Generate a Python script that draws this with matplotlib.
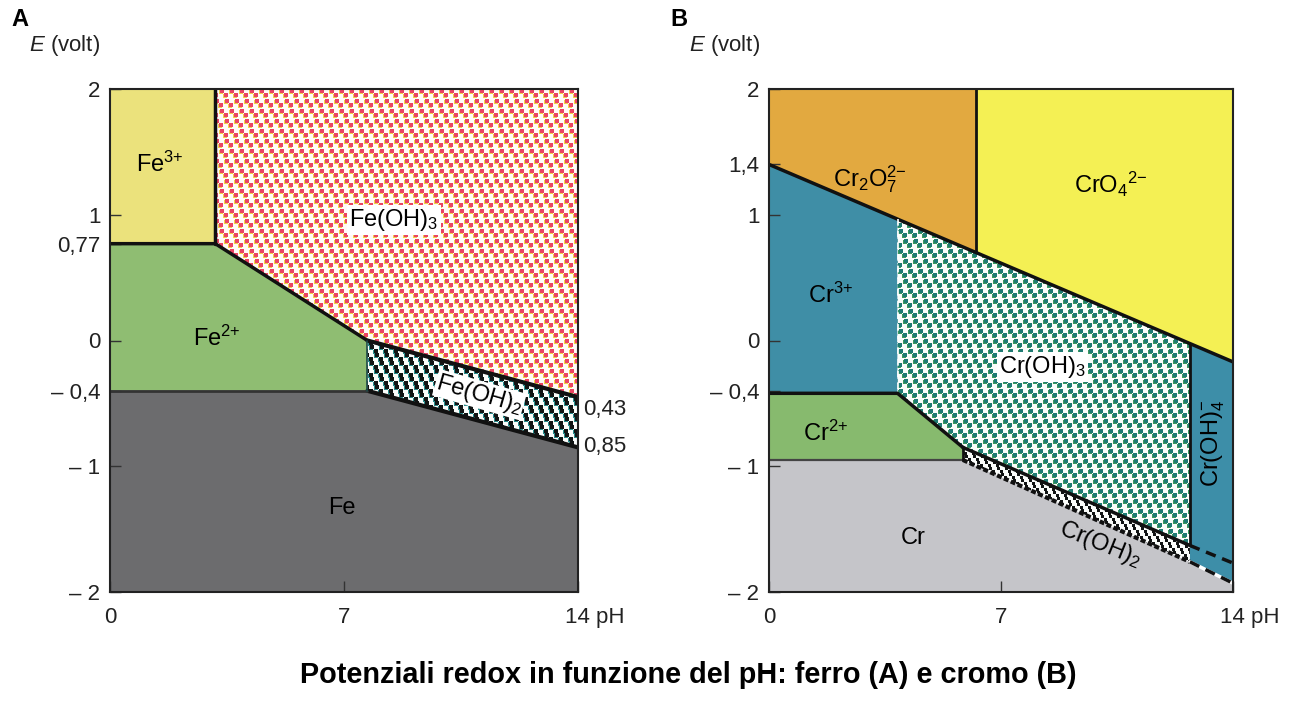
import numpy as np
import matplotlib
matplotlib.use('Agg')
import matplotlib.pyplot as plt
from matplotlib.patches import Polygon
from matplotlib.colors import to_rgb
import matplotlib.transforms as mtrans

plt.rcParams['font.family'] = ['Liberation Sans', 'DejaVu Sans']
plt.rcParams['mathtext.fontset'] = 'custom'
plt.rcParams['mathtext.rm'] = 'Liberation Sans'
plt.rcParams['mathtext.it'] = 'Liberation Sans:italic'
plt.rcParams['mathtext.bf'] = 'Liberation Sans:bold'
plt.rcParams['mathtext.default'] = 'regular'

# ---------------- data ----------------
ph_ticks = [0, 7, 14]
ph_ticklabels = ['0', '7', '14 pH']

fe_E_ticks = [2, 1, 0.77, 0, -0.4, -1, -2]
fe_E_ticklabels = ['2', '1', '0,77', '0', '\u2013 0,4', '\u2013 1', '\u2013 2']
cr_E_ticks = [2, 1.4, 1, 0, -0.4, -1, -2]
cr_E_ticklabels = ['2', '1,4', '1', '0', '\u2013 0,4', '\u2013 1', '\u2013 2']

# Iron (A): region polygons (pH, E)
fe3_pH = [0, 3.15, 3.15, 0]
fe3_E = [2, 2, 0.77, 0.77]
fe2_pH = [0, 3.15, 7.7, 7.7, 0]
fe2_E = [0.77, 0.77, 0.0, -0.40, -0.40]
feoh3_pH = [3.15, 14, 14, 7.7, 3.15]
feoh3_E = [2, 2, -0.45, 0.0, 0.77]
feoh2_pH = [7.7, 14, 14, 7.7]
feoh2_E = [0.0, -0.45, -0.85, -0.40]
fe_pH = [0, 7.7, 14, 14, 0]
fe_E = [-0.40, -0.40, -0.85, -2, -2]

# Chromium (B): region polygons (pH, E)
cr2o7_pH = [0, 6.26, 6.26, 0]
cr2o7_E = [2, 2, 0.70, 1.40]
cro4_pH = [6.26, 14, 14, 6.26]
cro4_E = [2, 2, -0.17, 0.70]
cr3_pH = [0, 3.88, 3.88, 0]
cr3_E = [1.40, 0.965, -0.42, -0.42]
cr2_pH = [0, 3.88, 5.85, 5.85, 0]
cr2_E = [-0.42, -0.42, -0.85, -0.95, -0.95]
croh3_pH = [3.88, 12.7, 12.7, 5.85, 3.88]
croh3_E = [0.965, -0.025, -1.63, -0.85, -0.42]
croh2_pH = [5.85, 12.7, 12.7, 5.85]
croh2_E = [-0.85, -1.63, -1.76, -0.95]
croh4_pH = [12.7, 14, 14, 12.7]
croh4_E = [-0.025, -0.17, -1.93, -1.76]
cr_pH = [0, 5.85, 12.7, 14, 14, 0]
cr_E = [-0.95, -0.95, -1.76, -1.93, -2, -2]
# dashed continuation lines (pH, E)
cr_dash_up_pH = [12.7, 14]
cr_dash_up_E = [-1.63, -1.77]
cr_dash_lo_pH = [12.7, 14]
cr_dash_lo_E = [-1.76, -1.93]

W, H = 1315, 708
fig = plt.figure(figsize=(W / 100, H / 100), dpi=100)
fig.patch.set_facecolor('white')


def px_ax(l, r, t, b):
    return [l / W, (H - b) / H, (r - l) / W, (b - t) / H]


axA = fig.add_axes(px_ax(110, 578, 89, 592))
axB = fig.add_axes(px_ax(769, 1233, 89, 592))


def square_mask(xx, yy, cw, ch, shift, sq, offsets):
    j = yy // ch
    u = (xx - shift * j) % cw
    v = yy % ch
    m = np.zeros(xx.shape, dtype=bool)
    for ox, oy in offsets:
        m |= (((u - ox) % cw) < sq) & (((v - oy) % ch) < sq)
    return m


def texture(h, w, bg, col, shadow=None, cw=10, ch=10, shift=5, sq=4,
            offsets=((0, 0), (4, 4))):
    yy, xx = np.mgrid[0:h, 0:w]
    img = np.ones((h, w, 3)) * np.array(to_rgb(bg))
    if shadow is not None:
        m2 = square_mask(xx + 1, yy - 1, cw, ch, shift, sq, offsets)
        img[m2] = to_rgb(shadow)
    m = square_mask(xx, yy, cw, ch, shift, sq, offsets)
    img[m] = to_rgb(col)
    return img


def pattern(ax, xs, ys, bg, col, shadow=None, **kw):
    bb = ax.get_window_extent()
    w, h = int(round(bb.width)), int(round(bb.height))
    img = texture(h, w, bg, col, shadow, **kw)
    im = ax.imshow(img, extent=(0, 14, -2, 2), origin='upper',
                   interpolation='nearest', aspect='auto', zorder=1)
    poly = Polygon(np.column_stack([xs, ys]), closed=True, transform=ax.transData)
    im.set_clip_path(poly)


def solid(ax, xs, ys, color):
    ax.fill(xs, ys, color=color, lw=0, zorder=1)


def line(ax, xs, ys, **kw):
    d = dict(color='#111111', lw=2.5, solid_capstyle='round', zorder=3)
    d.update(kw)
    ax.plot(xs, ys, **d)


def setup(ax, yt, ytl):
    ax.set_xlim(0, 14)
    ax.set_ylim(-2, 2)
    ax.set_xticks(ph_ticks)
    ax.set_xticklabels(ph_ticklabels)
    ax.set_yticks(yt)
    ax.set_yticklabels(ytl)
    ax.tick_params(direction='in', length=8, width=1.0, color='#333333',
                   labelsize=16, labelcolor='#222222')
    ax.tick_params(axis='x', pad=11)
    ax.tick_params(axis='y', pad=7)
    for s in ax.spines.values():
        s.set_linewidth(1.5)
        s.set_color('#222222')
        s.set_zorder(6)
    lab = ax.get_xticklabels()[-1]
    lab.set_horizontalalignment('left')
    lab.set_transform(lab.get_transform() +
                      mtrans.ScaledTranslation(-13 / 100, 0, fig.dpi_scale_trans))


fs = 17

# ---------------- Panel A ----------------
setup(axA, fe_E_ticks, fe_E_ticklabels)
solid(axA, fe3_pH, fe3_E, '#ebe27c')
solid(axA, fe2_pH, fe2_E, '#8fbd72')
solid(axA, fe_pH, fe_E, '#6c6c6e')
pattern(axA, feoh3_pH, feoh3_E, '#fffaf6', '#ea4462', shadow='#f2d248',
        cw=10, ch=10, shift=5, sq=4, offsets=((0, 0), (4, 4)))
pattern(axA, feoh2_pH, feoh2_E, '#fbfdfb', '#121515', shadow='#2a8c8c',
        cw=10, ch=8, shift=5, sq=4, offsets=((0, 0), (4, 4)))

line(axA, [fe3_pH[1], fe3_pH[2]], [fe3_E[1], fe3_E[2]])
line(axA, [fe2_pH[0], fe2_pH[1], fe2_pH[2]], [fe2_E[0], fe2_E[1], fe2_E[2]])
line(axA, [feoh2_pH[0], feoh2_pH[1]], [feoh2_E[0], feoh2_E[1]], lw=3)
line(axA, [feoh2_pH[3], feoh2_pH[2]], [feoh2_E[3], feoh2_E[2]], lw=3)
line(axA, [fe_pH[0], fe_pH[1]], [fe_E[0], fe_E[1]], lw=2, color='#333333')
line(axA, [fe2_pH[2], fe2_pH[3]], [fe2_E[2], fe2_E[3]], lw=1.2, color='#1d4a48')

axA.text(1.5, 1.40, 'Fe$^{3{+}}$', fontsize=fs, ha='center', va='center', zorder=5)
axA.text(8.5, 0.96, 'Fe(OH)$_3$', fontsize=fs, ha='center', va='center', zorder=5,
         bbox=dict(facecolor='white', edgecolor='none', pad=1.5))
axA.text(3.2, 0.02, 'Fe$^{2{+}}$', fontsize=fs, ha='center', va='center', zorder=5)
axA.text(11.05, -0.43, 'Fe(OH)$_2$', fontsize=fs, ha='center', va='center',
         rotation=-16, rotation_mode='anchor', zorder=5,
         bbox=dict(facecolor='white', edgecolor='none', pad=0.5))
axA.text(6.95, -1.33, 'Fe', fontsize=fs, ha='center', va='center', zorder=5)
axA.text(14.15, -0.55, '0,43', fontsize=16, ha='left', va='center',
         color='#222222', clip_on=False)
axA.text(14.15, -0.84, '0,85', fontsize=16, ha='left', va='center',
         color='#222222', clip_on=False)

# ---------------- Panel B ----------------
setup(axB, cr_E_ticks, cr_E_ticklabels)
solid(axB, cr2o7_pH, cr2o7_E, '#e2a940')
solid(axB, cro4_pH, cro4_E, '#f4f054')
solid(axB, cr3_pH, cr3_E, '#3f8ea6')
solid(axB, cr2_pH, cr2_E, '#87ba6e')
solid(axB, croh4_pH, croh4_E, '#3d8ea8')
solid(axB, cr_pH, cr_E, '#c5c5c9')
pattern(axB, croh3_pH, croh3_E, '#fbfdfb', '#1f7b74', shadow='#3c9a5e',
        cw=10, ch=10, shift=5, sq=4, offsets=((0, 0), (4, 4)))
pattern(axB, croh2_pH, croh2_E, '#fbfdfb', '#111414',
        cw=8, ch=6, shift=4, sq=3, offsets=((0, 0), (3, 3)))

line(axB, [cr2o7_pH[3], cro4_pH[2]], [cr2o7_E[3], cro4_E[2]])
line(axB, [cr2o7_pH[1], cr2o7_pH[2]], [cr2o7_E[1], cr2o7_E[2]], lw=2)
line(axB, [cr3_pH[1], cr3_pH[2]], [cr3_E[1], cr3_E[2]], lw=1.2, color='white',
     ls=(0, (4, 3)))
line(axB, [cr2_pH[0], cr2_pH[1], cr2_pH[2]], [cr2_E[0], cr2_E[1], cr2_E[2]], lw=2.5)
line(axB, [cr_pH[0], cr_pH[1]], [cr_E[0], cr_E[1]], lw=1.6, color='#444444')
line(axB, [croh2_pH[0], croh2_pH[1]], [croh2_E[0], croh2_E[1]], lw=2.5)
line(axB, [croh2_pH[0], croh2_pH[3]], [croh2_E[0], croh2_E[3]], lw=2)
line(axB, [croh2_pH[3], croh2_pH[2]], [croh2_E[3], croh2_E[2]], lw=3,
     ls=(0, (1.2, 0.6)), solid_capstyle='butt')
line(axB, [croh4_pH[0], croh2_pH[1]], [croh4_E[0], croh2_E[1]], lw=2)
line(axB, cr_dash_lo_pH, cr_dash_lo_E, lw=2.5, color='white')
line(axB, cr_dash_up_pH, cr_dash_up_E, lw=2.5, ls=(0, (3, 2)),
     solid_capstyle='butt')
line(axB, cr_dash_lo_pH, cr_dash_lo_E, lw=2.5, ls=(0, (3, 2)),
     solid_capstyle='butt')

axB.text(3.05, 1.28, 'Cr$_2$O$_7^{2{-}}$', fontsize=fs, ha='center', va='center', zorder=5)
axB.text(10.3, 1.24, 'CrO$_4{}^{2{-}}$', fontsize=fs, ha='center', va='center', zorder=5)
axB.text(1.85, 0.36, 'Cr$^{3{+}}$', fontsize=fs, ha='center', va='center', zorder=5)
axB.text(8.24, -0.21, 'Cr(OH)$_3$', fontsize=fs, ha='center', va='center', zorder=5,
         bbox=dict(facecolor='white', edgecolor='none', pad=1.5))
axB.text(1.72, -0.74, 'Cr$^{2{+}}$', fontsize=fs, ha='center', va='center', zorder=5)
axB.text(13.4, -0.82, 'Cr(OH)$_4^{-}$', fontsize=fs, ha='center', va='center',
         rotation=90, zorder=5)
axB.text(10.0, -1.62, 'Cr(OH)$_2$', fontsize=fs, ha='center', va='center',
         rotation=-22, rotation_mode='anchor', zorder=5)
axB.text(4.35, -1.57, 'Cr', fontsize=fs, ha='center', va='center', zorder=5)

# ---------------- figure texts ----------------
for xr, lab, xl in [(100, 'A', 20), (760, 'B', 679)]:
    fig.text(xr / W, 1 - 46 / H, r'$\mathit{E}$ (volt)', fontsize=16, ha='right',
             va='center', color='#222222')
    fig.text(xl / W, 1 - 20 / H, lab, fontsize=17, fontweight='bold',
             ha='center', va='center')

fig.text(688 / W, 1 - 675 / H,
         'Potenziali redox in funzione del pH: ferro (A) e cromo (B)',
         fontsize=20.8, fontweight='bold', ha='center', va='center')

fig.savefig('out.png', dpi=100)
